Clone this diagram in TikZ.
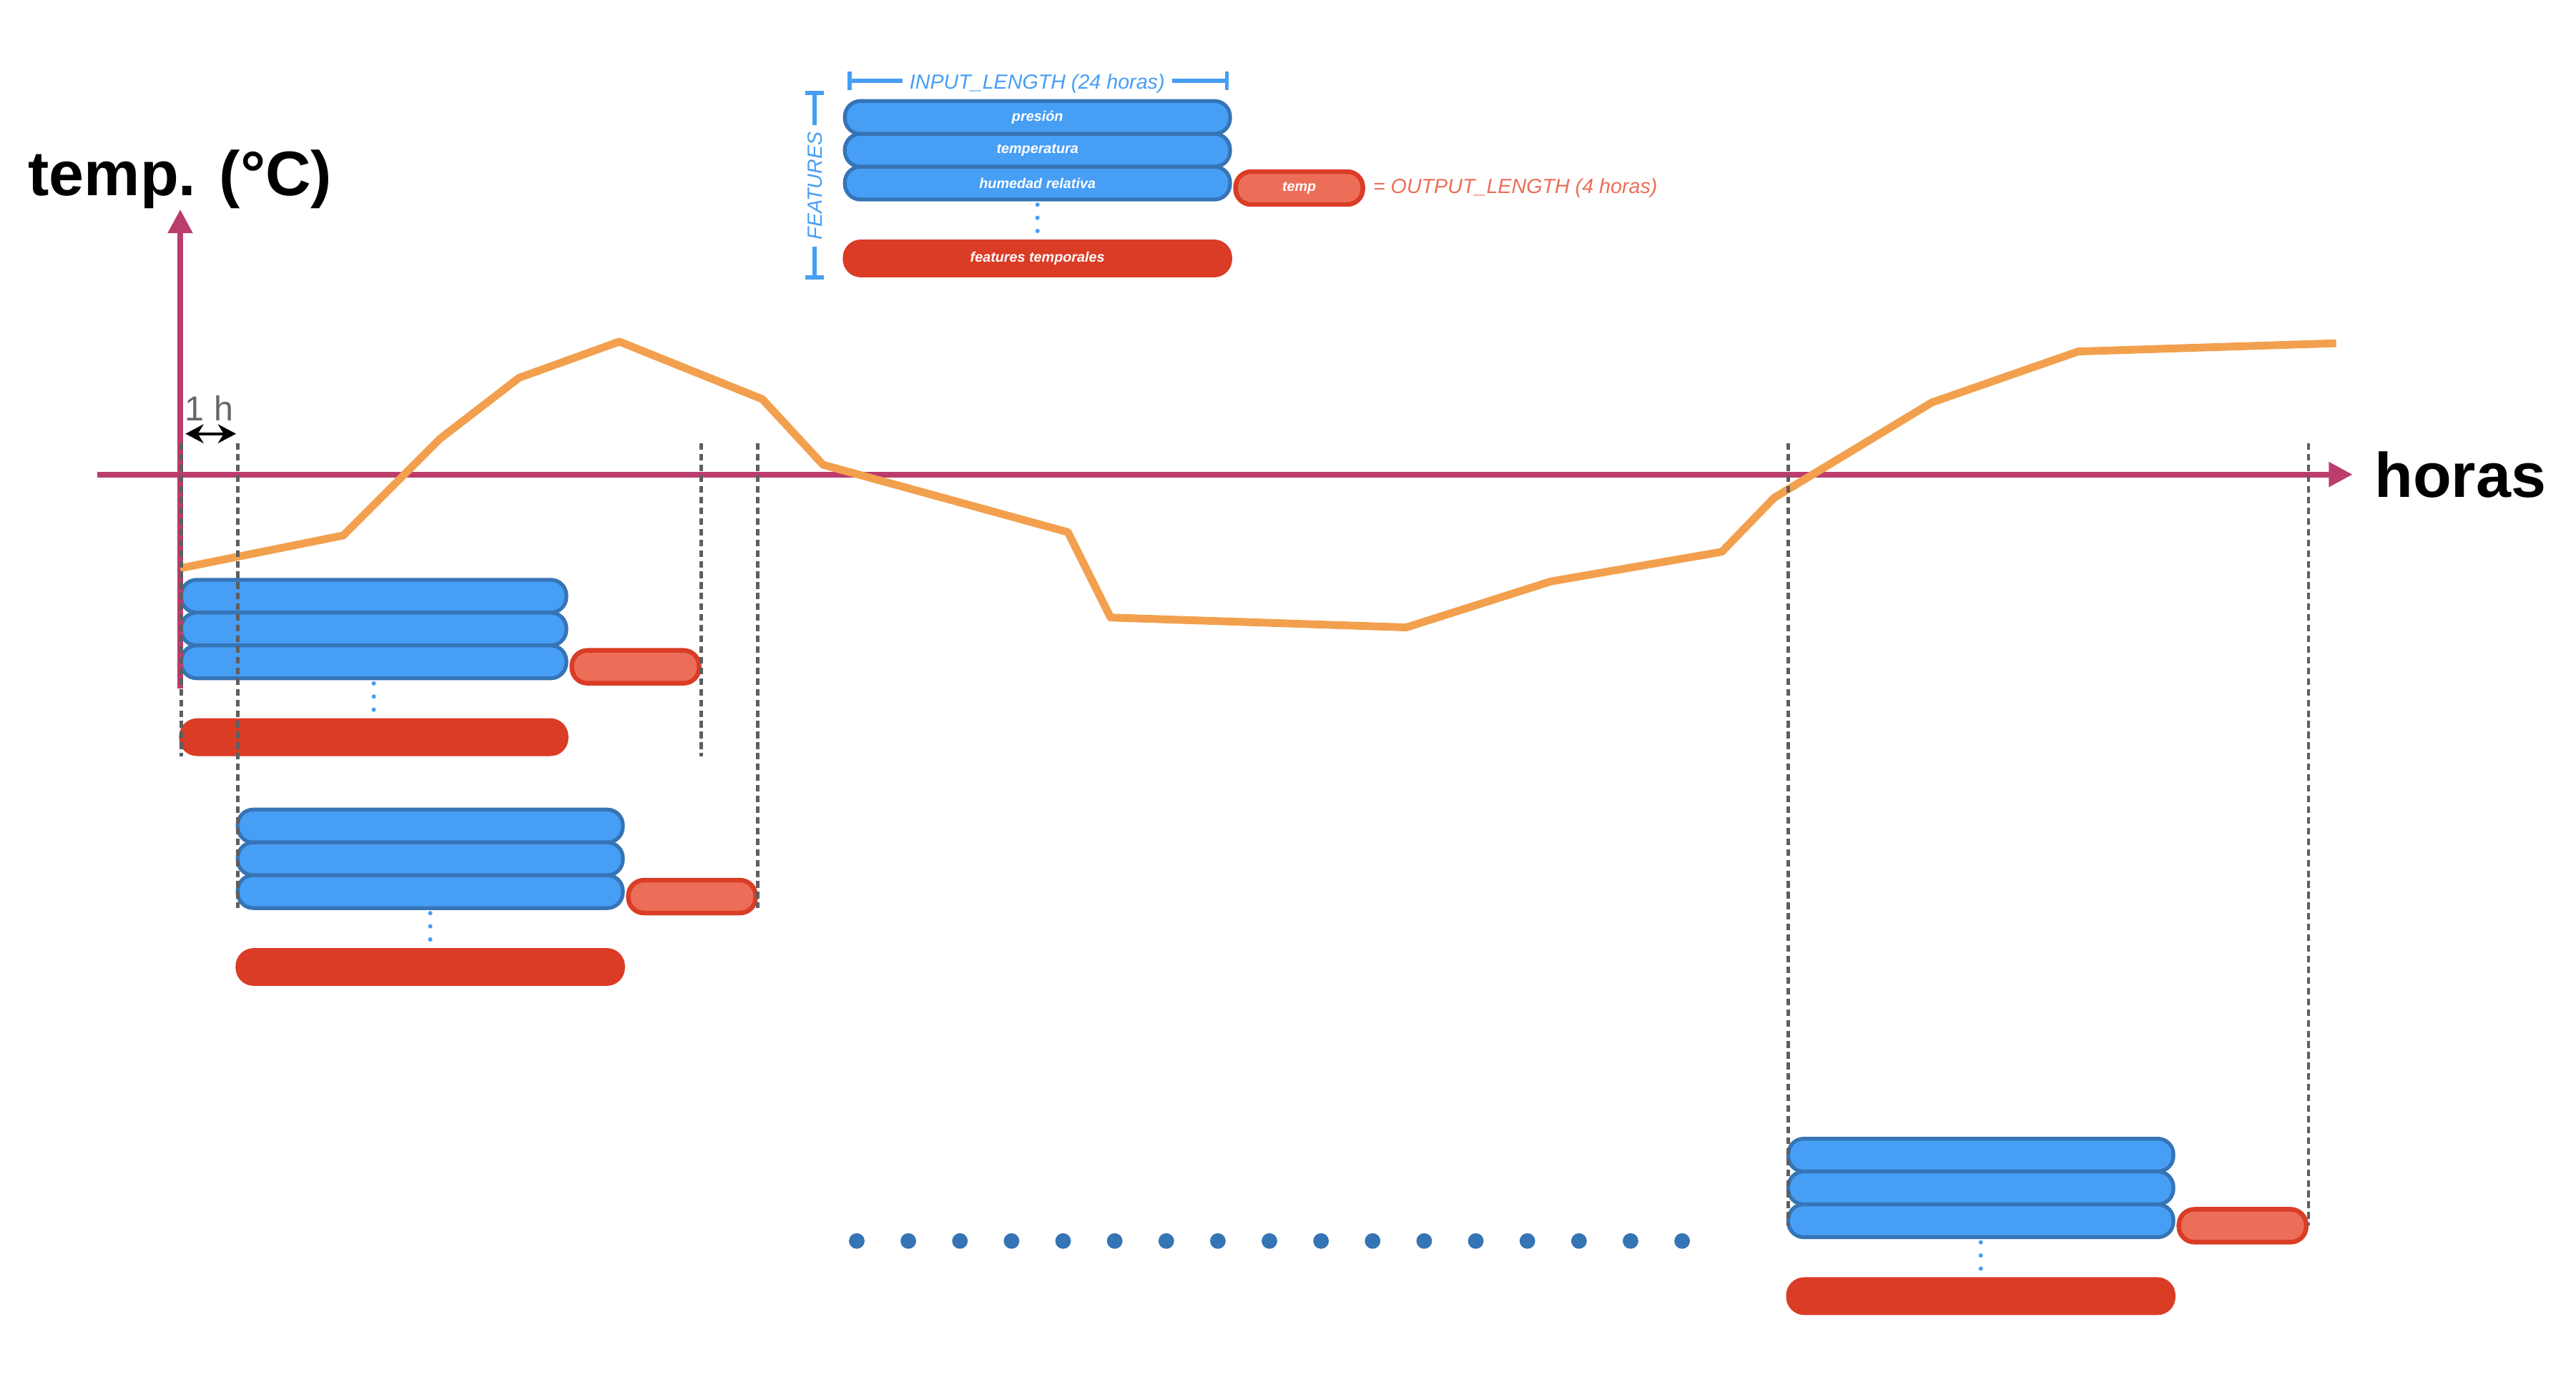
\documentclass[tikz,border=0pt]{standalone}
\usepackage{fontspec}
\setmainfont{Liberation Sans}
\usepackage{tikz}
\usetikzlibrary{arrows.meta,positioning,calc}
\definecolor{WXMagenta}{HTML}{BA3D6E}
\definecolor{WXOrange}{HTML}{F2A04E}
\definecolor{WXBlue}{HTML}{479EF5}
\definecolor{WXBlueDark}{HTML}{3574B5}
\definecolor{WXRed}{HTML}{DA3C26}
\definecolor{WXSalmon}{HTML}{EC6E58}
\definecolor{WXGray}{HTML}{5E5E5E}
\definecolor{WXLabel}{HTML}{666666}
\newcommand{\wxbarfont}{\fontsize{4.9pt}{5.5pt}\selectfont\bfseries\itshape}
\newcommand{\wxlegfont}{\fontsize{7.1pt}{8.5pt}\selectfont\itshape}
\newcommand{\wxaxisfont}{\fontsize{21.8pt}{26pt}\selectfont\bfseries}
\newcommand{\wxhourfont}{\fontsize{12pt}{14pt}\selectfont}
\tikzset{
  >={Triangle[length=2.9mm,width=2.9mm]},
  wxfeat/.style={rounded corners=1.9mm, draw=WXBlueDark, line width=1.3pt,
    fill=WXBlue, minimum width=46.9mm, minimum height=4mm, inner sep=0pt,
    outer sep=0pt, text=white, font=\wxbarfont},
  wxtarget/.style={rounded corners=1.9mm, draw=WXRed, line width=1.6pt,
    fill=WXSalmon, minimum width=15.5mm, minimum height=4mm, inner sep=0pt,
    text=white, font=\wxbarfont},
  wxtime/.style={rounded corners=2.2mm, fill=WXRed, minimum width=47.4mm,
    minimum height=4.6mm, inner sep=0pt, text=white, font=\wxbarfont},
  wxdots/.style={draw=WXBlue, line width=1.5pt, line cap=round,
    dash pattern=on 0pt off 1.6mm, shorten <=0.62mm, shorten >=0.5mm},
  wxguide/.style={draw=WXGray, line width=1.2pt, dash pattern=on 0.8mm off 0.5mm},
  wxbracket/.style={draw=WXBlue, line width=1.3pt},
  wxlegend/.style={font=\wxlegfont, inner sep=0.8mm},
  wxaxis/.style={->, draw=WXMagenta, line width=1.9pt},
  wxcurve/.style={draw=WXOrange, line width=2.7pt, line join=round},
  wxaxislabel/.style={font=\wxaxisfont, inner sep=0pt},
  wxhour/.style={{Stealth[length=2.2mm,width=2.3mm,inset=0.7mm]}-{Stealth[length=2.2mm,width=2.3mm,inset=0.7mm]},
    line width=1pt}
}

\begin{document}
\begin{tikzpicture}[x=0.2mm, y=-0.2mm]
  \fill[white] (0,0) rectangle (1568,838);
  \useasboundingbox (0,0) rectangle (1568,838);

  \node[wxfeat] (a-p) at (227.5,363) {};
  \node[wxfeat, below=0pt of a-p] (a-t) {};
  \node[wxfeat, below=0pt of a-t] (a-h) {};
  \node[wxtarget, right=0.38mm of a-h, yshift=-0.6mm] (a-o) {};
  \node[wxtime, below=4.8mm of a-h] (a-r) {};
  \draw[wxdots] (a-h) -- (a-r);

  \node[wxfeat] (b-p) at (261.9,502.9) {};
  \node[wxfeat, below=0pt of b-p] (b-t) {};
  \node[wxfeat, below=0pt of b-t] (b-h) {};
  \node[wxtarget, right=0.38mm of b-h, yshift=-0.6mm] (b-o) {};
  \node[wxtime, below=4.8mm of b-h] (b-r) {};
  \draw[wxdots] (b-h) -- (b-r);

  \node[wxfeat] (c-p) at (1205.7,703.3) {};
  \node[wxfeat, below=0pt of c-p] (c-t) {};
  \node[wxfeat, below=0pt of c-t] (c-h) {};
  \node[wxtarget, right=0.38mm of c-h, yshift=-0.6mm] (c-o) {};
  \node[wxtime, below=4.8mm of c-h] (c-r) {};
  \draw[wxdots] (c-h) -- (c-r);

  \coordinate (ybot) at (109.7,419);
  \coordinate (ytip) at (109.7,127.5);
  \coordinate (xbeg) at (59.2,288.9);
  \coordinate (xtip) at (1432,288.9);
  \draw[wxaxis] (ybot) -- (ytip);
  \draw[wxaxis] (xbeg) -- (xtip);
  \node[wxaxislabel, above=0pt of ytip] (ylabel) {temp. (°C)};
  \node[wxaxislabel, right=2.6mm of xtip] (xlabel) {horas};

  \draw[wxcurve] (109.7,346) -- (209,326) -- (268,267) -- (316,230)
    -- (377,208) -- (464,243) -- (501,283) -- (650,324) -- (676,376)
    -- (856,382) -- (944,354) -- (1048,336) -- (1080,303) -- (1176,245)
    -- (1265,214) -- (1422,209);

  \coordinate (guidetop) at (0,270);
  \draw[wxguide] (a-p.west |- guidetop) -- (a-p.west |- a-r.south);
  \draw[wxguide] (a-o.east |- guidetop) -- (a-o.east |- a-r.south);
  \draw[wxguide] (b-p.west |- guidetop) -- (b-p.west |- b-h.south);
  \draw[wxguide] (b-o.east |- guidetop) -- (b-o.east |- b-h.south);
  \draw[wxguide] (c-p.west |- guidetop) -- (c-p.west |- c-o.center);
  \draw[wxguide] (c-o.east |- guidetop) -- (c-o.east |- c-o.center);

  \coordinate (hourL) at (112.9,264.1);
  \coordinate (hourR) at (143.7,264.1);
  \draw[wxhour] (hourL) -- (hourR);
  \node[font=\wxhourfont, text=WXLabel, inner sep=0pt, anchor=base] (hourlabel)
    at (127.3,256) {1 h};

  \foreach \k in {0,...,16}
    \fill[WXBlueDark] (521.5+31.4*\k,755.6) circle (0.95mm);

  \node[wxfeat] (leg-p) at (631.5,71.5) {presión};
  \node[wxfeat, below=0pt of leg-p] (leg-t) {temperatura};
  \node[wxfeat, below=0pt of leg-t] (leg-h) {humedad relativa};
  \node[wxtarget, right=0.38mm of leg-h, yshift=-0.6mm] (leg-o) {temp};
  \node[wxtime, below=4.8mm of leg-h] (leg-r) {features temporales};
  \draw[wxdots] (leg-h) -- (leg-r);

  \node[wxlegend, text=WXBlue] (inlen) at (631.3,51) {INPUT\_LENGTH (24 horas)};
  \coordinate (inleft) at (516,49.2);
  \coordinate (inright) at (748,49.2);
  \draw[wxbracket, {Bar[width=2.3mm]}-] (inleft) -- (inleft -| inlen.west);
  \draw[wxbracket, -{Bar[width=2.3mm]}] (inlen.east |- inright) -- (inright);

  \node[wxlegend, text=WXBlue, rotate=90] (feat) at (496,113.2) {FEATURES};
  \coordinate (feattop) at (495.8,55.5);
  \coordinate (featbot) at (495.8,170);
  \draw[wxbracket, {Bar[width=2.3mm]}-] (feattop) -- (feattop |- feat.east);
  \draw[wxbracket, -{Bar[width=2.3mm]}] (featbot |- feat.west) -- (featbot);

  \node[wxlegend, text=WXSalmon, right=0.1mm of leg-o] (outlen)
    {= OUTPUT\_LENGTH (4 horas)};
\end{tikzpicture}
\end{document}
